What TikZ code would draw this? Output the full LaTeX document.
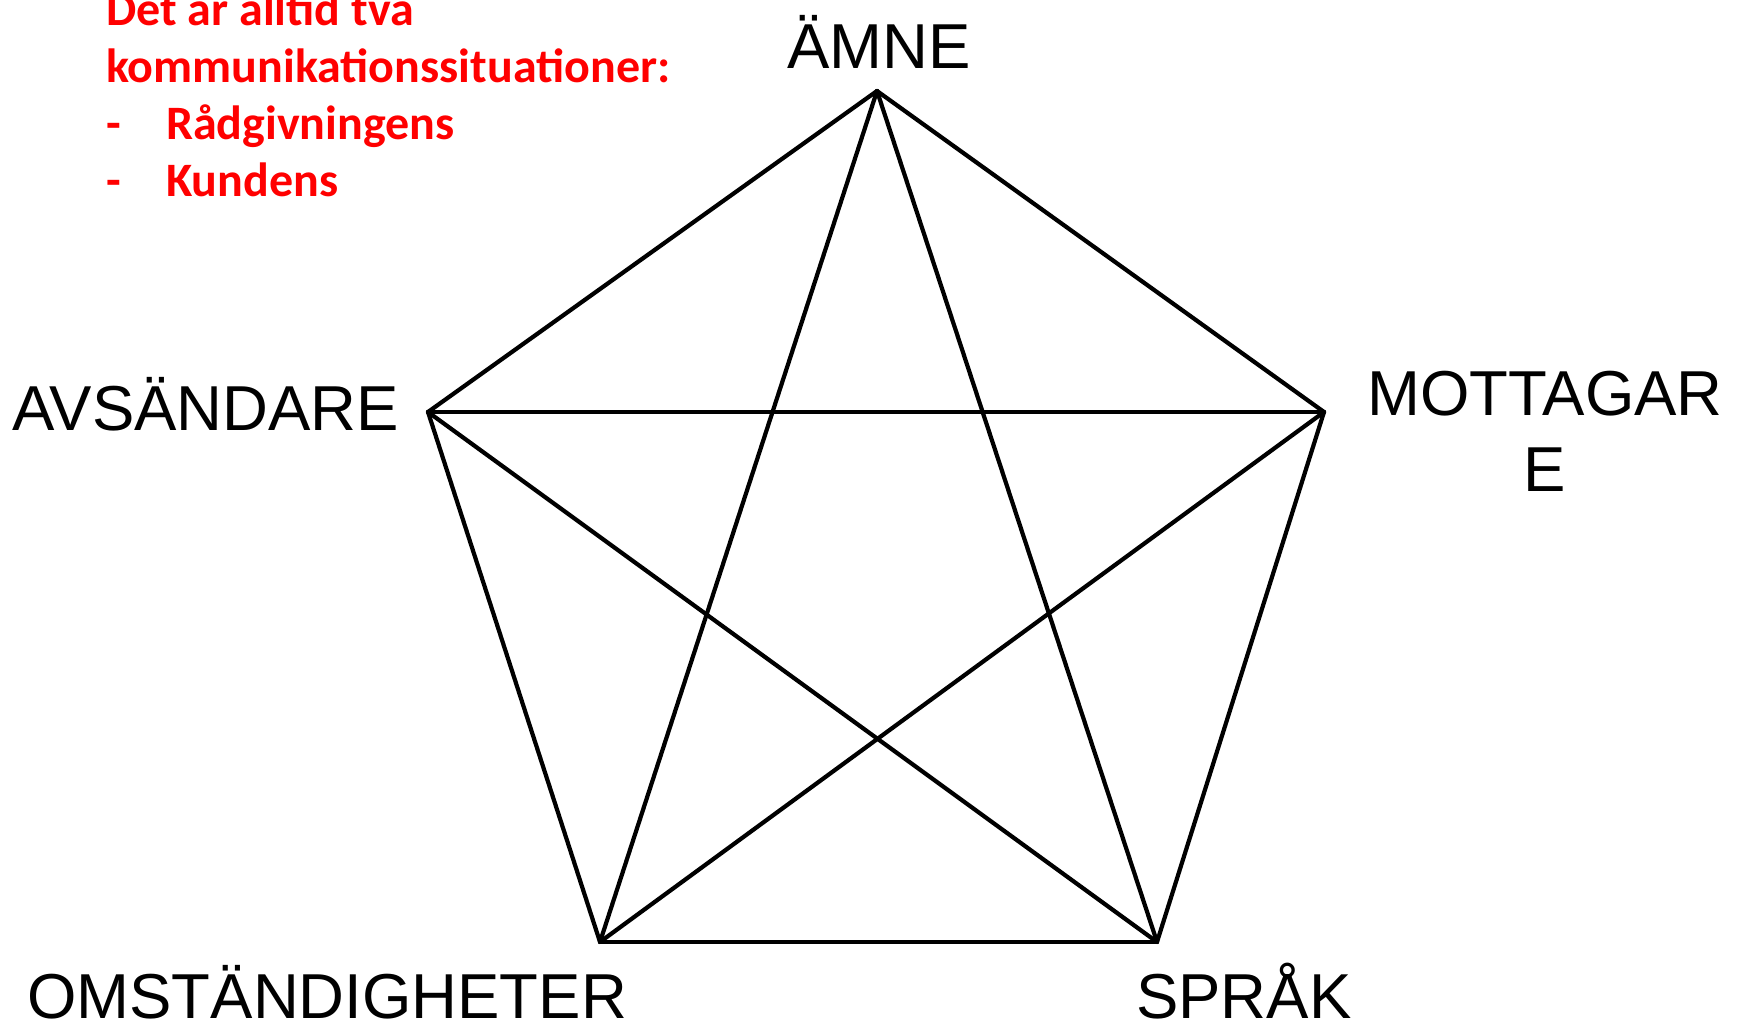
\documentclass[tikz,border=0pt]{standalone}
\usepackage{fontspec}
\setmainfont{Liberation Sans}
\newfontfamily\calibfont{Carlito}
\usepackage{xcolor}
\usepackage{tikz}
\usetikzlibrary{positioning,calc}
\definecolor{noteRed}{RGB}{255,0,0}
\definecolor{inkline}{RGB}{0,0,0}

\begin{document}
\begin{tikzpicture}[x=1pt,y=1pt,
    corner/.style={font=\fontsize{63.5}{76}\selectfont,inner sep=0pt},
    note/.style={font=\calibfont\bfseries\fontsize{48}{57}\selectfont,color=noteRed,inner sep=0pt,anchor=base west},
    edge/.style={draw=inkline,line width=4.2pt,line cap=round}]
  \useasboundingbox (0,0) rectangle (1740,1023);
  % pentagon corners
  \coordinate (amne)  at (877,932);
  \coordinate (avs)   at (428,611);
  \coordinate (mott)  at (1324,611);
  \coordinate (oms)   at (600,81);
  \coordinate (sprak) at (1157,81);
  % every corner joined to every other
  \foreach \a/\b in {amne/avs,amne/mott,amne/oms,amne/sprak,avs/mott,avs/oms,avs/sprak,mott/oms,mott/sprak,oms/sprak}
    \draw[edge] (\a) -- (\b);
  % labels
  \node[corner,anchor=base] (lamne) at (879,954) {ÄMNE};
  \node[corner,anchor=base west] (lavs) at (12,592) {AVSÄNDARE};
  \node[corner,anchor=base] (lmott) at (1545,607) {MOTTAGAR};
  \node[corner,anchor=base] (lmotte) at (1545,531) {E};
  \node[corner,anchor=base west] (loms) at (27,5) {OMSTÄNDIGHETER};
  \node[corner,anchor=base west] (lsprak) at (1136,5) {SPRÅK};
  % red note
  \node[note] (head1) at (106,997) {Det är alltid två};
  \node[note] (head2) at (106,940) {kommunikationssituationer:};
  \node[note] (dash1) at (106,883) {-};
  \node[note] (item1) at (166,883) {Rådgivningens};
  \node[note] (dash2) at (106,826) {-};
  \node[note] (item2) at (166,826) {Kundens};
\end{tikzpicture}
\end{document}
